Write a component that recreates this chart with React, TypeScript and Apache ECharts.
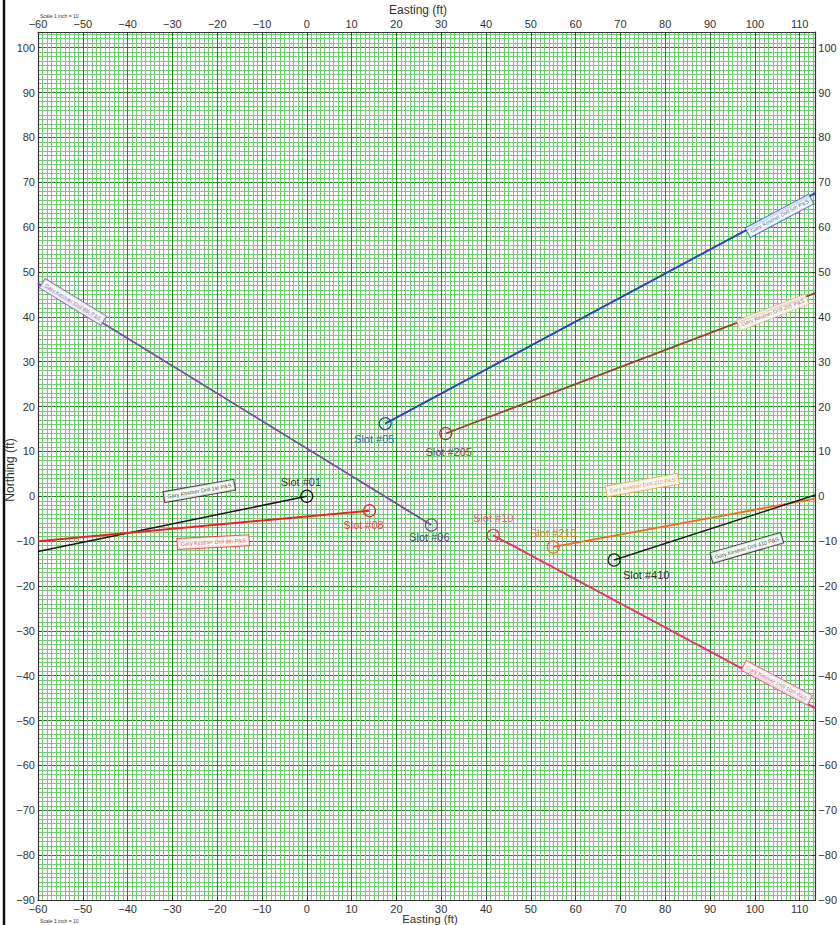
import React, { useEffect, useRef } from "react";
import * as echarts from "echarts";

// ---- data ----
const xRange = [-60, 113.5];
const yRange = [-90, 103.5];

const slotNames = ["Slot #01", "Slot #08", "Slot #06", "Slot #05", "Slot #205", "Slot #10", "Slot #210", "Slot #410"];
const slotX = [0, 14, 27.8, 17.5, 31, 41.6, 55, 68.6];
const slotY = [0, -3.2, -6.4, 16.2, 14, -8.7, -11.3, -14.2];
const endX = [-60, -60, -60, 113.5, 113.5, 113.5, 113.5, 113.5];
const endY = [-12.3, -10, 47.5, 67.6, 45.3, -47.2, -0.5, 0.3];

const tagText = [
  "Gary Kestner Drill 1st P&S",
  "Gary Kestner Drill 8th P&S",
  "Gary Kestner Drill 6th P&S",
  "Gary Kestner Drill 5th P&S",
  "Gary Kestner Drill 205 P&S",
  "Gary Kestner Drill 10th P&S",
  "Gary Kestner Drill 210 P&S",
  "Gary Kestner Drill 410 P&S",
];
const tagX = [-24, -20.9, -52.2, 105.5, 104, 104.9, 74.9, 98.2];
const tagY = [1.2, -10.2, 43.3, 62.5, 41.0, -41.6, 2.5, -11.5];

// ---- styles ----
const lineColors = ["#151515", "#ee2020", "#7a4aa6", "#2446b8", "#9c3f2a", "#e8336e", "#f26a1e", "#1c1c1c"];
const slotLabelColors = ["#333333", "#ee4444", "#4b4b6e", "#3a66b2", "#555555", "#e2508a", "#ef7430", "#333333"];
const tagBorder = ["#222", "#ee3030", "#8a5ab6", "#3456c8", "#e8b48a", "#e8447e", "#f0a040", "#222"];
const tagRotate = [10, 3, -31.5, 28, 21, -28, 10, 16];
const labelOffset: [number, number][] = [[-6, -14], [-6, 14], [-2, 12], [-11, 15], [3, 19], [0, -17], [0, -14], [32, 15]];
const lineWidths = [1.5, 2, 1.8, 2, 1.8, 2, 1.8, 1.5];

const FONT = "'Liberation Sans', Arial, sans-serif";

const fmt = (v: number) => {
  if (Math.abs(v % 10) > 1e-6) return "";
  return v < 0 ? "\u2212" + Math.abs(v) : String(v);
};

export default function App() {
  const ref = useRef<HTMLDivElement>(null);
  useEffect(() => {
    if (!ref.current) return;
    const chart = echarts.init(ref.current, null, { renderer: "svg" });

    const labelAxisBase = {
      type: "value" as const,
      interval: 10,
      axisLine: { show: true, onZero: false, lineStyle: { color: "#333", width: 1.2 } },
      axisTick: { show: true, inside: true, length: 3, lineStyle: { color: "#333" } },
      axisLabel: { formatter: fmt, fontSize: 11, color: "#333", fontFamily: FONT, margin: 3 },
      splitLine: { show: false },
    };
    const minorBase = {
      type: "value" as const,
      interval: 1,
      axisLine: { show: false },
      axisTick: { show: false },
      axisLabel: { show: false },
      splitLine: { show: true, lineStyle: { color: "#74cb74", width: 1 } },
    };

    const series: any[] = slotNames.map((name, i) => ({
      type: "line",
      name,
      xAxisIndex: 1,
      yAxisIndex: 1,
      lineStyle: { color: lineColors[i], width: lineWidths[i] },
      itemStyle: { color: "rgba(0,0,0,0)", borderColor: lineColors[i], borderWidth: 1.2 },
      symbol: "circle",
      symbolSize: 12,
      z: 5,
      data: [
        {
          value: [slotX[i], slotY[i]],
          label: {
            show: true,
            formatter: name,
            position: "inside",
            offset: labelOffset[i],
            fontSize: 11,
            color: slotLabelColors[i],
            fontFamily: FONT,
          },
        },
        { value: [endX[i], endY[i]], symbol: "none" },
      ],
    }));

    series.push({
      type: "scatter",
      xAxisIndex: 1,
      yAxisIndex: 1,
      symbol: "circle",
      symbolSize: 1,
      itemStyle: { color: "rgba(0,0,0,0)" },
      z: 6,
      data: tagText.map((t, i) => ({
        value: [tagX[i], tagY[i]],
        label: {
          show: true,
          formatter: t,
          position: "inside",
          rotate: tagRotate[i],
          fontSize: 5.5,
          fontFamily: FONT,
          color: lineColors[i],
          backgroundColor: "#ffffff",
          borderColor: tagBorder[i],
          borderWidth: 1,
          padding: [2, 3],
        },
      })),
    });

    chart.setOption({
      animation: false,
      backgroundColor: "#ffffff",
      grid: { left: 38, right: 23, top: 32, bottom: 25, containLabel: false },
      xAxis: [
        { ...minorBase, min: xRange[0], max: xRange[1], position: "bottom" },
        {
          ...labelAxisBase,
          min: xRange[0],
          max: xRange[1],
          position: "bottom",
          splitLine: { show: true, lineStyle: { color: "#238523", width: 1 } },
        },
        { ...labelAxisBase, min: xRange[0], max: xRange[1], position: "top" },
      ],
      yAxis: [
        { ...minorBase, min: yRange[0], max: yRange[1], position: "left" },
        {
          ...labelAxisBase,
          min: yRange[0],
          max: yRange[1],
          position: "left",
          splitLine: { show: true, lineStyle: { color: "#238523", width: 1 } },
        },
        { ...labelAxisBase, min: yRange[0], max: yRange[1], position: "right" },
      ],
      series,
      graphic: [
        { type: "line", shape: { x1: 4, y1: 0, x2: 4, y2: 925 }, style: { stroke: "#111", lineWidth: 2.5 } },
        {
          type: "text",
          x: 418,
          y: 10,
          style: { text: "Easting (ft)", fontSize: 12, fill: "#333", fontFamily: FONT, align: "center", verticalAlign: "middle" },
        },
        {
          type: "text",
          x: 430,
          y: 919,
          z: 10,
          style: { text: "Easting (ft)", fontSize: 11.5, fill: "#333", fontFamily: FONT, align: "center", verticalAlign: "middle" },
        },
        {
          type: "text",
          x: 10,
          y: 470,
          rotation: Math.PI / 2,
          style: { text: "Northing (ft)", fontSize: 12, fill: "#333", fontFamily: FONT, align: "center", verticalAlign: "middle" },
        },
        {
          type: "text",
          x: 40,
          y: 16,
          style: { text: "Scale 1 inch = 10", fontSize: 5, fill: "#333", fontFamily: FONT, align: "left", verticalAlign: "middle" },
        },
        {
          type: "text",
          x: 40,
          y: 921,
          style: { text: "Scale 1 inch = 10", fontSize: 5, fill: "#333", fontFamily: FONT, align: "left", verticalAlign: "middle" },
        },
      ],
    });
    return () => chart.dispose();
  }, []);
  return (
    <div
      ref={ref}
      style={{ position: "absolute", left: 0, top: 0, width: 840, height: 925, background: "#fff" }}
    />
  );
}
